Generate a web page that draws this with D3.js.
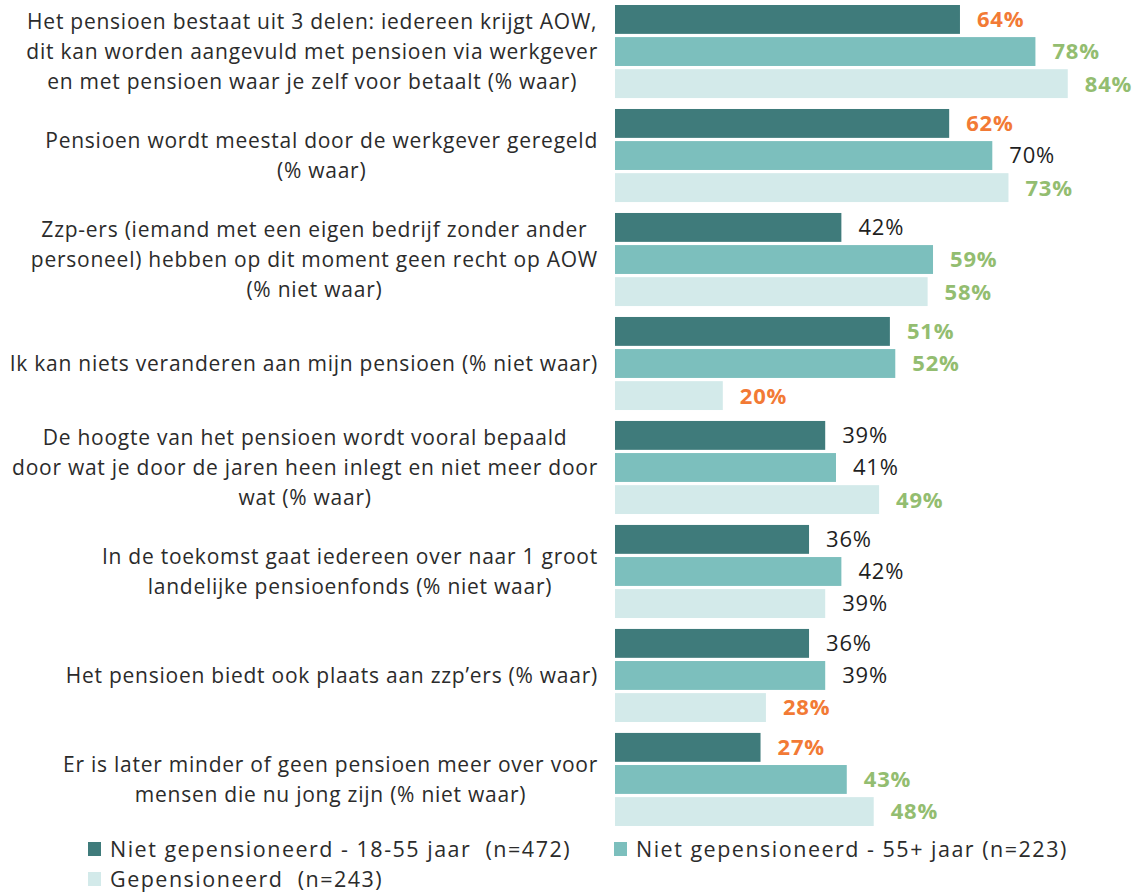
<!DOCTYPE html>
<html lang="nl">
<head>
<meta charset="UTF-8">
<title>Pensioen kennis</title>
<script src="https://cdn.jsdelivr.net/npm/d3@7"></script>
<style>
  body { margin: 0; background: #fff; }
  svg text { font-family: "Open Sans", "Noto Sans", sans-serif; fill: #2b2b2b; }
</style>
</head>
<body>
<svg id="chart" width="1139" height="893"></svg>
<script>
// categories, each as its printed lines
var categories = [
  ["Het pensioen bestaat uit 3 delen: iedereen krijgt AOW,", "dit kan worden aangevuld met pensioen via werkgever", "en met pensioen waar je zelf voor betaalt (% waar)"],
  ["Pensioen wordt meestal door de werkgever geregeld", "(% waar)"],
  ["Zzp-ers (iemand met een eigen bedrijf zonder ander", "personeel) hebben op dit moment geen recht op AOW", "(% niet waar)"],
  ["Ik kan niets veranderen aan mijn pensioen (% niet waar)"],
  ["De hoogte van het pensioen wordt vooral bepaald", "door wat je door de jaren heen inlegt en niet meer door", "wat (% waar)"],
  ["In de toekomst gaat iedereen over naar 1 groot", "landelijke pensioenfonds (% niet waar)"],
  ["Het pensioen biedt ook plaats aan zzp\u2019ers (% waar)"],
  ["Er is later minder of geen pensioen meer over voor", "mensen die nu jong zijn (% niet waar)"]
];
var seriesNames = ["Niet gepensioneerd - 18-55 jaar  (n=472)", "Niet gepensioneerd - 55+ jaar (n=223)", "Gepensioneerd  (n=243)"];
var young = [64, 62, 42, 51, 39, 36, 36, 27];
var older = [78, 70, 59, 52, 41, 42, 39, 43];
var retired = [84, 73, 58, 20, 49, 39, 28, 48];
// significance: "lo" = significantly lower, "hi" = significantly higher
var youngSig = ["lo", "lo", "", "hi", "", "", "", "lo"];
var olderSig = ["hi", "", "hi", "hi", "", "", "", "hi"];
var retiredSig = ["hi", "hi", "hi", "lo", "hi", "", "lo", "hi"];

var seriesColors = ["#3f7b7b", "#7cbfbd", "#d3eaea"];
var sigColors = { lo: "#f27a35", hi: "#93bd70", "": "#1f1f1f" };

var svg = d3.select("#chart");
var values = [young, older, retired];
var sigs = [youngSig, olderSig, retiredSig];

var x = d3.scaleLinear().domain([0, 100]).range([615, 1154]);
var y0 = d3.scaleBand().domain(d3.range(categories.length)).range([5, 826]).paddingInner(0.105).paddingOuter(0);
var y1 = d3.scaleBand().domain([0, 1, 2]).range([0, y0.bandwidth()]).paddingInner(0.1);

var groups = svg.selectAll("g.cat")
  .data(categories)
  .enter().append("g")
  .attr("class", "cat")
  .attr("transform", (d, i) => "translate(0," + y0(i) + ")");

groups.each(function (lines, i) {
  var g = d3.select(this);
  [0, 1, 2].forEach(function (s) {
    var v = values[s][i];
    g.append("rect")
      .attr("x", x(0))
      .attr("y", y1(s))
      .attr("width", x(v) - x(0))
      .attr("height", y1.bandwidth())
      .attr("fill", seriesColors[s]);
    var sig = sigs[s][i];
    g.append("text")
      .attr("x", x(v) + 17)
      .attr("y", y1(s) + y1.bandwidth() / 2)
      .attr("dy", "0.36em")
      .style("font-size", "22px")
      .style("letter-spacing", "0.8px")
      .style("font-weight", sig ? "bold" : "normal")
      .style("fill", sigColors[sig])
      .text(v + "%");
  });

  // category label block, centred lines, right edge near the bars
  var lh = 30;
  var cy = y0.bandwidth() / 2 - (lines.length - 1) * lh / 2;
  var lab = g.append("g");
  var ts = lab.selectAll("text").data(lines).enter().append("text")
    .attr("y", (d, k) => cy + k * lh)
    .attr("dy", "0.35em")
    .attr("text-anchor", "middle")
    .style("font-size", "21px")
    .style("letter-spacing", "0.75px")
    .text(d => d);
  var maxW = 0;
  ts.each(function () { maxW = Math.max(maxW, this.getComputedTextLength()); });
  ts.attr("x", 598 - maxW / 2);
});

// legend
var legendPos = [[88, 849], [614, 849], [88, 879]];
var legend = svg.selectAll("g.leg")
  .data(seriesNames)
  .enter().append("g")
  .attr("class", "leg")
  .attr("transform", (d, i) => "translate(" + legendPos[i][0] + "," + legendPos[i][1] + ")");
legend.append("rect")
  .attr("x", 0).attr("y", -7).attr("width", 13).attr("height", 14)
  .attr("fill", (d, i) => seriesColors[i]);
legend.append("text")
  .attr("x", 22)
  .attr("dy", "0.35em")
  .style("font-size", "21.5px")
  .style("letter-spacing", "1.5px")
  .style("white-space", "pre")
  .text(d => d);
</script>
</body>
</html>
